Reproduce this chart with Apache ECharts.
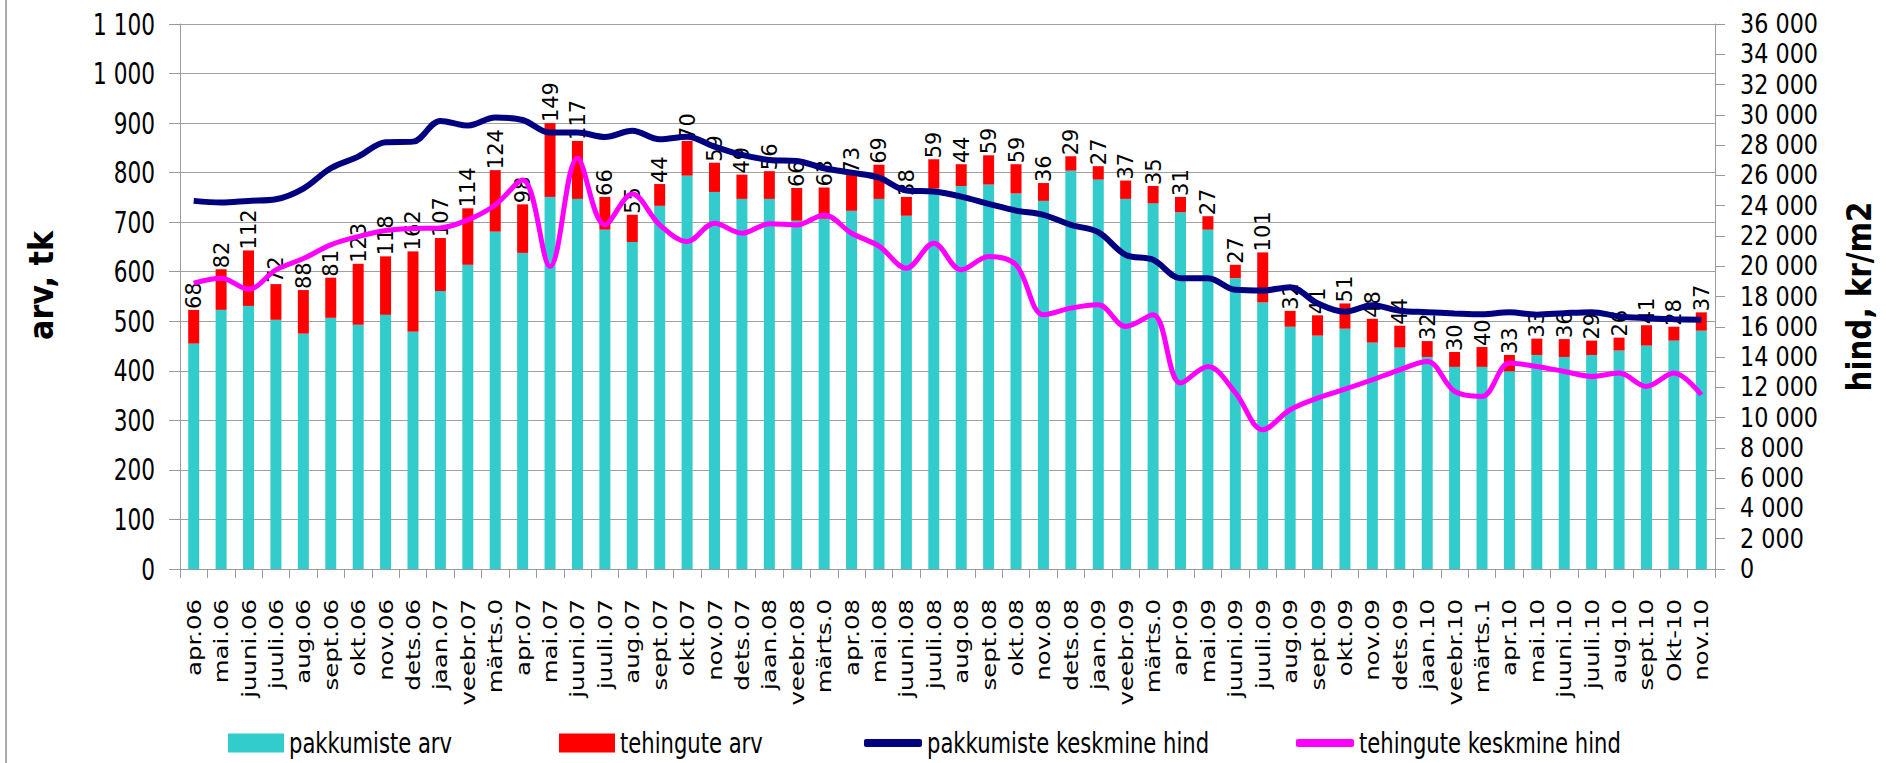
<!DOCTYPE html>
<html><head><meta charset="utf-8">
<script src="https://cdn.jsdelivr.net/npm/echarts@6/dist/echarts.min.js"></script>
<style>html,body{margin:0;padding:0;background:#fff}#c{width:1886px;height:763px}</style>
</head><body><div id="c"></div>
<script>
const categories = ['apr.06','mai.06','juuni.06','juuli.06','aug.06','sept.06','okt.06','nov.06','dets.06',
 'jaan.07','veebr.07','märts.0','apr.07','mai.07','juuni.07','juuli.07','aug.07','sept.07','okt.07','nov.07','dets.07',
 'jaan.08','veebr.08','märts.0','apr.08','mai.08','juuni.08','juuli.08','aug.08','sept.08','okt.08','nov.08','dets.08',
 'jaan.09','veebr.09','märts.0','apr.09','mai.09','juuni.09','juuli.09','aug.09','sept.09','okt.09','nov.09','dets.09',
 'jaan.10','veebr.10','märts.1','apr.10','mai.10','juuni.10','juuli.10','aug.10','sept.10','Okt-10','nov.10'];

const pakkumisteArv = [455,523,531,503,475,507,493,513,479,561,614,681,638,751,747,685,660,733,794,761,
 747,747,703,707,723,747,713,768,773,776,758,743,804,786,747,738,720,685,587,538,
 489,471,485,457,447,428,408,408,399,432,428,432,441,451,461,481];

const tehinguteArv = [68,82,112,72,88,81,123,118,162,107,114,124,98,149,117,66,55,44,70,59,
 49,56,66,63,73,69,38,59,44,59,59,36,29,27,37,35,31,27,27,101,
 32,41,51,48,44,32,30,40,33,33,36,29,26,41,28,37];

const pakkumisteHind = [24316,24205,24316,24425,25130,26470,27240,28190,28230,29600,
 29290,29820,29660,28830,28830,28540,28950,28387,28560,27900,
 27350,27020,26955,26470,26180,25850,25000,24930,24600,24120,
 23675,23390,22730,22250,20750,20420,19210,19210,18440,18393,
 18617,17550,16990,17420,17060,16967,16880,16820,16960,16800,
 16900,16967,16680,16570,16505,16460];

const tehinguteHind = [18880,19210,18485,19760,20505,21410,21960,22355,22490,22530,
 23060,24050,25700,19980,27135,22730,24770,22730,21630,22840,
 22180,22800,22730,23390,22180,21330,19870,21520,19760,20640,
 20090,16790,17230,17450,16020,16790,12280,13375,11650,9200,
 10520,11290,11880,12500,13160,13710,11730,11400,13600,13380,
 13050,12720,12940,12060,12940,11510];

const seriesNames = ['pakkumiste arv','tehingute arv','pakkumiste keskmine hind','tehingute keskmine hind'];
const leftAxisTitle = 'arv, tk';
const rightAxisTitle = 'hind, kr/m2';

const FONT = "'DejaVu Sans',sans-serif";
const fmt = v => String(v).replace(/\B(?=(\d{3})+(?!\d))/g, ' ');
const AX = '#9a9a9a';

const el = document.getElementById('c');
const chart = echarts.init(el, null, {renderer:'svg'});

function legendAt(name, left, icon, w, h) {
  return {data:[name], left:left, top:729, padding:0, itemGap:0, icon:icon,
    itemWidth:w, itemHeight:h, selectedMode:false,
    textStyle:{fontFamily:FONT, fontSize:28, color:'#000'}};
}

chart.setOption({
  animation:false,
  backgroundColor:'#fff',
  grid:{left:180, right:171, top:24, bottom:194},
  legend:[
    legendAt(seriesNames[0], 228, 'rect', 56, 19),
    legendAt(seriesNames[1], 559, 'rect', 56, 19),
    legendAt(seriesNames[2], 864, 'roundRect', 58, 8),
    legendAt(seriesNames[3], 1296, 'roundRect', 58, 8)
  ],
  graphic:[{type:'line', shape:{x1:6,y1:0,x2:6,y2:763}, style:{stroke:'#aaa', lineWidth:2}}],
  xAxis:{type:'category', data:categories, boundaryGap:true,
    axisLine:{lineStyle:{color:AX, width:1}},
    axisTick:{show:true, length:9, interval:0, lineStyle:{color:AX}},
    axisLabel:{interval:0, rotate:90, margin:30, fontFamily:FONT, fontSize:20, color:'#000'}},
  yAxis:[
    {type:'value', min:0, max:1100, interval:100, position:'left',
     name:leftAxisTitle, nameLocation:'middle', nameGap:113,
     nameTextStyle:{fontFamily:FONT, fontWeight:'bold', fontSize:34, color:'#000', padding:[0,0,0,22]},
     axisLine:{show:true, lineStyle:{color:AX}},
     axisTick:{show:true, length:11, lineStyle:{color:AX}},
     splitLine:{show:true, lineStyle:{color:'#a0a0a0', width:1}},
     axisLabel:{formatter:fmt, fontFamily:FONT, fontSize:30, color:'#000', margin:25}},
    {type:'value', min:0, max:36000, interval:2000, position:'right',
     name:rightAxisTitle, nameLocation:'middle', nameGap:116,
     nameTextStyle:{fontFamily:FONT, fontWeight:'bold', fontSize:34, color:'#000'},
     axisLine:{show:true, lineStyle:{color:AX}},
     axisTick:{show:true, length:10, lineStyle:{color:AX}},
     splitLine:{show:false},
     axisLabel:{formatter:fmt, fontFamily:FONT, fontSize:26, color:'#000', margin:25}}
  ],
  series:[
    {name:seriesNames[0], type:'bar', stack:'arv', data:pakkumisteArv, barWidth:11,
     itemStyle:{color:'#33CCCC'}},
    {name:seriesNames[1], type:'bar', stack:'arv', data:tehinguteArv, barWidth:11,
     itemStyle:{color:'#FF0000'},
     label:{show:true, position:'top', rotate:90, align:'left', verticalAlign:'middle', distance:1,
       fontFamily:FONT, fontSize:22, color:'#000'}},
    {name:seriesNames[2], type:'line', yAxisIndex:1, data:pakkumisteHind, smooth:0.35,
     showSymbol:false, symbol:'none', z:3,
     lineStyle:{color:'#000080', width:6}, itemStyle:{color:'#000080'}},
    {name:seriesNames[3], type:'line', yAxisIndex:1, data:tehinguteHind, smooth:0.35,
     showSymbol:false, symbol:'none', z:4,
     lineStyle:{color:'#FF00FF', width:5}, itemStyle:{color:'#FF00FF'}}
  ]
});

// Emulate the reference's horizontally squeezed lettering: narrow the horizontal texts,
// lengthen the rotated ones (text stays real SVG text).
function adjustText() {
  const texts = Array.from(el.querySelectorAll('svg text'));
  if (!texts.length) return;
  const catSet = new Set(categories);
  const legendSet = new Set(seriesNames);
  const nat = t => {
    if (!t.dataset.nat) t.dataset.nat = t.getComputedTextLength();
    return parseFloat(t.dataset.nat);
  };
  const find = s => texts.find(t => t.textContent === s);
  const ratio = (s, target, dflt) => { const t = find(s); return t ? target / nat(t) : dflt; };
  const kx = ratio('apr.06', 77, 1.15);
  const kb = ratio('149', 40, 1);
  const kh = ratio('1 100', 62, 0.72);
  const kr = ratio('36 000', 78, 0.72);
  const kl = ratio(seriesNames[0], 163, 0.72);
  texts.forEach(t => {
    const s = t.textContent;
    if (!s) return;
    const m = t.getCTM();
    const rotated = m && Math.abs(m.a) < 0.5;
    let len;
    if (s === leftAxisTitle) len = 109;
    else if (s === rightAxisTitle) len = 190;
    else if (rotated && catSet.has(s)) len = nat(t) * kx;
    else if (rotated) len = nat(t) * kb;
    else if (legendSet.has(s)) len = nat(t) * kl;
    else if (m && m.e > 1700) len = nat(t) * kr;
    else len = nat(t) * kh;
    t.setAttribute('textLength', len.toFixed(2));
    t.setAttribute('lengthAdjust', 'spacingAndGlyphs');
  });
}
chart.on('finished', adjustText);
setTimeout(adjustText, 50);
setTimeout(adjustText, 300);
</script></body></html>
